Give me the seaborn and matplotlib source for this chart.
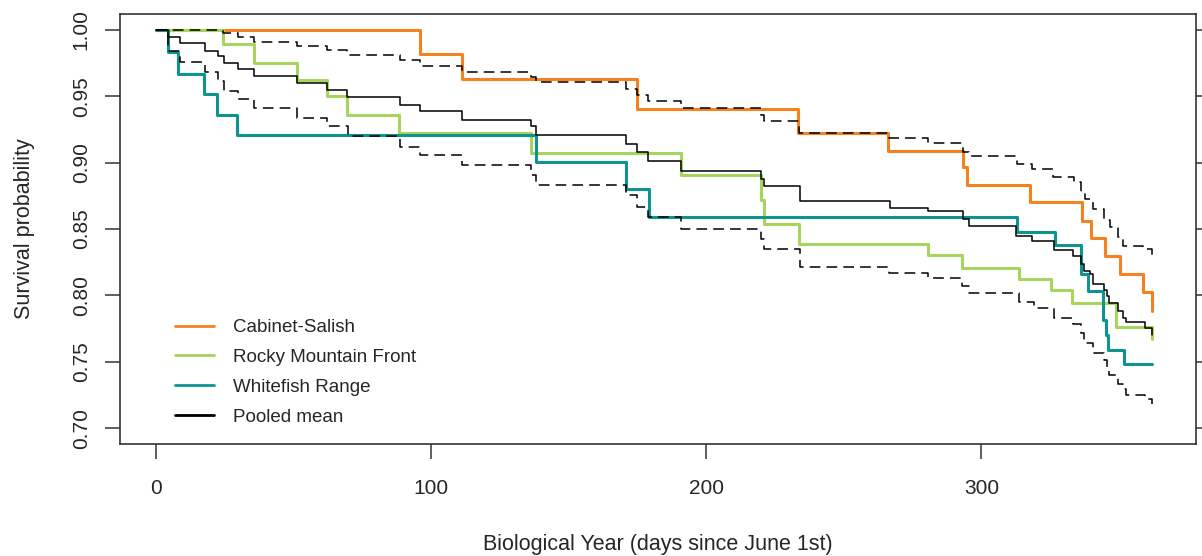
import matplotlib
matplotlib.use("Agg")
import matplotlib.pyplot as plt
from matplotlib.lines import Line2D
import seaborn as sns
import pandas as pd

# Kaplan-Meier style survival curves
cabinet_t = [0, 96, 111.3, 174.8, 233.5, 266, 293.4, 294.7, 317.5, 336.7, 339.8, 344.8, 350.5, 358.7, 362]
cabinet_s = [1.0, 0.982, 0.963, 0.9405, 0.922, 0.909, 0.897, 0.883, 0.870, 0.856, 0.843, 0.8298, 0.8163, 0.8024, 0.7885]

rocky_t = [0, 24.3, 35.8, 51.3, 62.3, 69.4, 88.4, 136.3, 190.9, 220, 221, 233.7, 280.5, 292.8, 313.5, 325.4, 333, 349.1, 362]
rocky_s = [1.0, 0.9894, 0.9754, 0.962, 0.950, 0.936, 0.922, 0.907, 0.8906, 0.872, 0.854, 0.839, 0.8305, 0.8204, 0.812, 0.8038, 0.7943, 0.7758, 0.767]

white_t = [0, 4.3, 8.1, 17.6, 22.2, 29.5, 138.1, 170.9, 179.4, 312.8, 326.6, 336.1, 338.9, 344.2, 345.4, 346.2, 352, 362]
white_s = [1.0, 0.983, 0.967, 0.952, 0.9356, 0.921, 0.9007, 0.880, 0.8589, 0.848, 0.838, 0.816, 0.8032, 0.7817, 0.770, 0.7589, 0.748, 0.748]

pooled_t = [0, 4.3, 8.9, 17.9, 22.5, 24.7, 29.8, 35.8, 51.3, 62.3, 69.4, 88.6, 96.1, 111.4, 136.2, 138,
            170.8, 175, 179, 190.9, 220, 221.2, 234, 266.7, 280.7, 293.2, 295.4, 312.6, 318.4, 326.5,
            333.2, 336.1, 337.3, 339.5, 340.4, 344.6, 345.6, 346.5, 349.5, 351.3, 352.6, 359.5, 362]
pooled_s = [1.0, 0.9944, 0.990, 0.9843, 0.9805, 0.9754, 0.9709, 0.965, 0.960, 0.9546, 0.9493, 0.9438, 0.9387, 0.9324, 0.9273, 0.921,
            0.9141, 0.9078, 0.9012, 0.8938, 0.8875, 0.8822, 0.8708, 0.866, 0.8632, 0.8577, 0.8526, 0.845, 0.8412, 0.834,
            0.8298, 0.8235, 0.8184, 0.816, 0.8088, 0.8037, 0.7994, 0.7943, 0.788, 0.7829, 0.7799, 0.7753, 0.770]

upper_t = [0, 24.3, 29.8, 35.8, 51.3, 62.3, 69.4, 88.6, 96, 111.4, 136.2, 138, 170.8, 175, 179, 191, 220, 221,
           233.7, 266.5, 280.7, 293.4, 295.4, 312.8, 318.4, 326, 333.8, 336.2, 337.5, 340.5, 344.7, 346.6,
           349.6, 351.5, 358.7, 362]
upper_s = [1.0, 0.9977, 0.9944, 0.9911, 0.988, 0.9848, 0.981, 0.9772, 0.9729, 0.9686, 0.9648, 0.9607, 0.9557, 0.9506,
           0.9463, 0.9413, 0.936, 0.9316, 0.9222, 0.9185, 0.9151, 0.9083, 0.905, 0.8987, 0.8949, 0.8893, 0.8855,
           0.878, 0.8724, 0.8653, 0.857, 0.8513, 0.8442, 0.8374, 0.8349, 0.830]

lower_t = [0, 4.3, 8.9, 17.9, 22.5, 24.7, 29.8, 35.8, 51.5, 62.4, 69.7, 88.6, 96, 111.4, 136.2, 138, 170.8, 175,
           179, 191, 220, 221, 234, 266.5, 280.7, 293, 295.4, 313.5, 319, 326.5, 333.4, 336.2, 337.4, 340.5,
           344.6, 345.5, 346.5, 349.5, 351.3, 352.6, 359.4, 362]
lower_s = [1.0, 0.9843, 0.976, 0.9686, 0.9615, 0.9539, 0.9476, 0.9413, 0.9337, 0.9273, 0.9197, 0.9121, 0.9058,
           0.8982, 0.8906, 0.883, 0.8754, 0.8665, 0.8589, 0.850, 0.8425, 0.8353, 0.8216, 0.8171, 0.8133, 0.807,
           0.8019, 0.795, 0.7905, 0.7829, 0.7784, 0.7715, 0.764, 0.7563, 0.7513, 0.745, 0.740, 0.7335, 0.7297,
           0.7252, 0.7222, 0.7183]

legend_labels = ["Cabinet-Salish", "Rocky Mountain Front", "Whitefish Range", "Pooled mean"]
colors = ["#F5821F", "#A6D45C", "#0E9490", "black"]

x_ticks = [0, 100, 200, 300]
y_ticks = [0.70, 0.75, 0.80, 0.85, 0.90, 0.95, 1.00]

sns.set_style("ticks")
plt.rcParams["font.family"] = ["Liberation Sans", "DejaVu Sans"]

fig = plt.figure(figsize=(12.02, 5.56), dpi=100)
ax = fig.add_axes([120 / 1202, 1 - 444 / 556, 1076 / 1202, 430 / 556])

# group curves first, pooled mean and its CI on top
groups = [(cabinet_t, cabinet_s, colors[0]), (rocky_t, rocky_s, colors[1]), (white_t, white_s, colors[2])]
for t, s, c in groups:
    df = pd.DataFrame({"day": t, "surv": s})
    sns.lineplot(data=df, x="day", y="surv", ax=ax, color=c, lw=2.2,
                 drawstyle="steps-post", estimator=None, sort=False)

for t, s, ls in [(pooled_t, pooled_s, "-"), (upper_t, upper_s, "--"), (lower_t, lower_s, "--")]:
    df = pd.DataFrame({"day": t, "surv": s})
    line = sns.lineplot(data=df, x="day", y="surv", ax=ax, color="black", lw=1.1,
                        drawstyle="steps-post", estimator=None, sort=False).lines[-1]
    line.set_linestyle(ls)
    if ls == "--":
        line.set_dashes((7, 4))

ax.set_xlim(-13, 378)
ax.set_ylim(0.688, 1.012)
ax.set_xticks(x_ticks)
ax.set_xticklabels([str(v) for v in x_ticks])
ax.set_yticks(y_ticks)
ax.set_yticklabels([f"{v:.2f}" for v in y_ticks], rotation=90, va="center")

for side in ["left", "right", "top", "bottom"]:
    ax.spines[side].set_linewidth(1.2)
    ax.spines[side].set_color("#333333")
ax.tick_params(axis="both", length=11, width=1.1, color="#333333", labelsize=15)
ax.tick_params(axis="x", pad=14)
ax.tick_params(axis="y", pad=10, right=True, labelright=False)

ax.set_xlabel("Biological Year (days since June 1st)", fontsize=15.5)
ax.set_ylabel("Survival probability", fontsize=15.5)
ax.xaxis.set_label_coords(0.5, -0.21)
ax.yaxis.set_label_coords(-0.079, 0.5)

handles = [Line2D([0], [0], color=c, lw=2) for c in colors]
ax.legend(handles, legend_labels, loc="upper left", bbox_to_anchor=(0.035, 0.33), frameon=False,
          fontsize=13.5, handlelength=2.1, handletextpad=1.04, labelspacing=0.68)

fig.savefig("out.png", dpi=100)
